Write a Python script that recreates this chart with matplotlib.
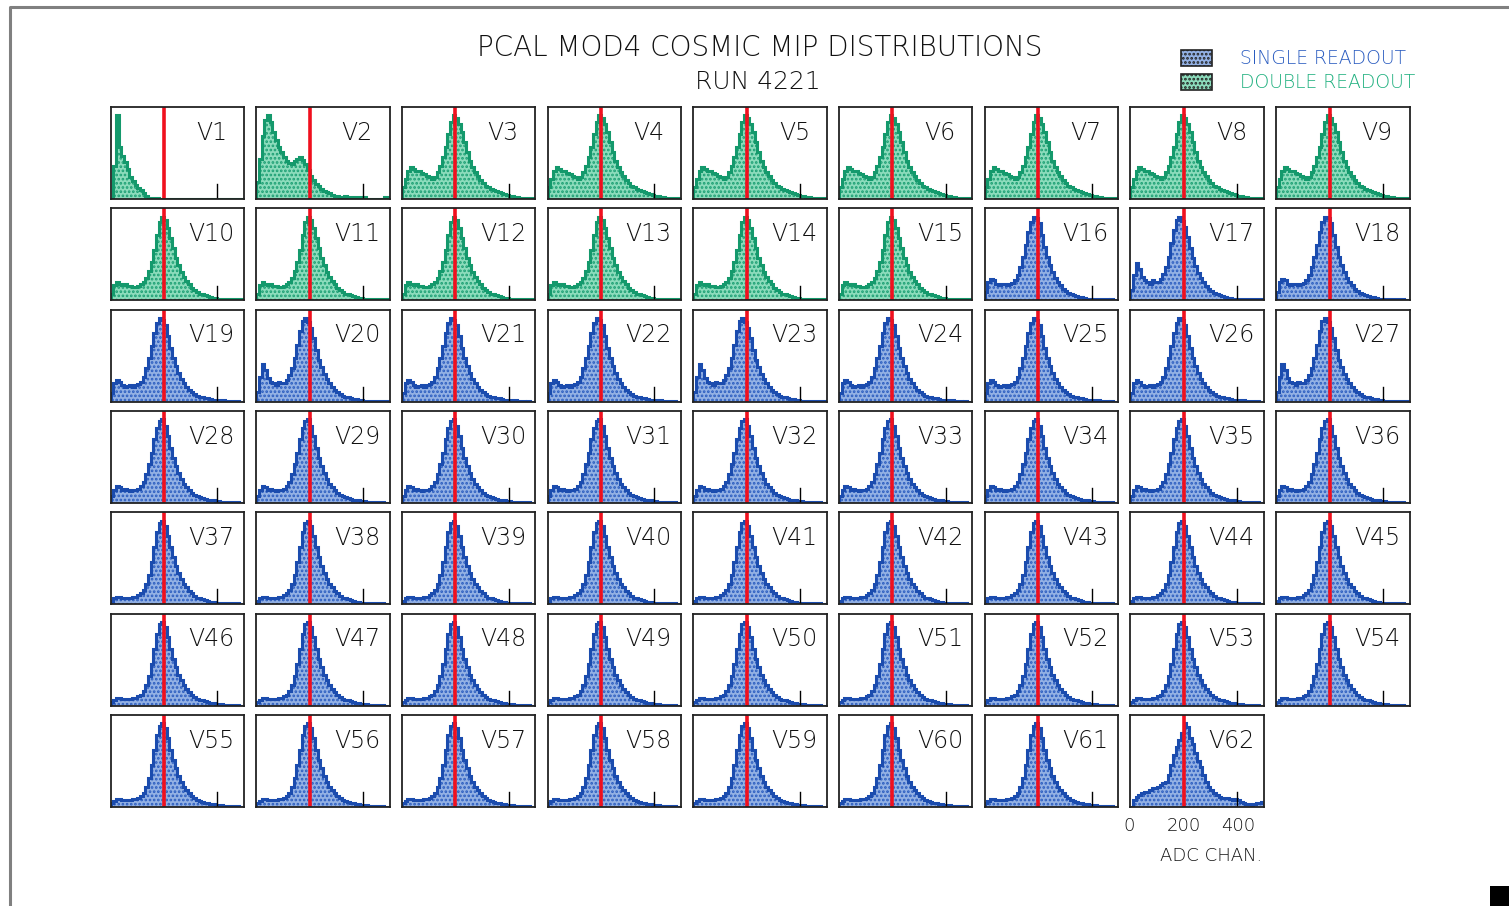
import matplotlib.pyplot as plt
import matplotlib.lines as mlines
import matplotlib.patches as mpatches
import numpy as np

# ADC bin edges (10 channels per bin, 0..500)
EDGES = list(range(0, 510, 10))

# histogram shapes (relative counts per bin)
SHAPE_V1 = [0, 40, 100, 62, 52, 44, 36, 26, 21, 17, 13, 11, 7, 3, 1, 1, 1, 1, 0, 0,
            0, 0, 0, 0, 0, 0, 0, 0, 0, 0, 0, 0, 0, 0, 0, 0, 0, 0, 0, 0,
            0, 0, 0, 0, 0, 0, 0, 0, 0, 0]
SHAPE_V2 = [20, 48, 75, 95, 100, 92, 80, 70, 62, 56, 50, 46, 43, 42, 45, 48, 50, 47, 42, 35,
            28, 23, 18, 15, 12, 10, 8, 7, 5, 4, 3, 2, 2, 3, 2, 2, 1, 2, 2, 1,
            2, 0, 0, 0, 0, 0, 0, 0, 2, 2]
SHAPE_GREEN_A = [14, 24, 34, 38, 36, 34, 33, 31, 30, 28, 26, 24, 26, 32, 40, 50, 62, 78, 92, 100,
                 97, 90, 80, 68, 56, 46, 38, 32, 27, 23, 19, 16, 14, 12, 11, 9, 8, 7, 6, 5,
                 4, 3, 2, 2, 1, 1, 1, 1, 1, 1]
SHAPE_GREEN_B = [8, 18, 22, 20, 18, 19, 17, 17, 16, 16, 17, 19, 22, 27, 35, 46, 60, 78, 94, 100,
                 96, 86, 74, 62, 51, 42, 34, 28, 23, 19, 15, 12, 10, 8, 7, 6, 5, 4, 3, 3,
                 2, 2, 1, 1, 1, 1, 1, 1, 1, 1]
SHAPE_BLUE_A = [10, 22, 26, 24, 20, 18, 19, 20, 18, 20, 21, 24, 30, 40, 52, 66, 82, 94, 100, 98,
                92, 78, 64, 52, 42, 34, 27, 22, 18, 14, 11, 9, 7, 6, 5, 4, 4, 3, 2, 2,
                2, 1, 2, 1, 1, 1, 0, 1, 0, 0]
SHAPE_BLUE_B = [12, 30, 45, 38, 28, 24, 22, 20, 24, 22, 22, 26, 32, 40, 52, 68, 84, 96, 100, 95,
                88, 76, 62, 50, 41, 33, 27, 22, 17, 14, 11, 9, 7, 6, 5, 4, 3, 3, 2, 2,
                1, 1, 1, 1, 1, 1, 1, 1, 1, 1]
SHAPE_BLUE_C = [8, 15, 20, 19, 16, 17, 15, 14, 16, 15, 17, 20, 25, 34, 46, 60, 76, 90, 98, 100,
                92, 80, 66, 54, 44, 36, 29, 23, 19, 15, 12, 10, 8, 7, 6, 5, 4, 3, 3, 2,
                2, 1, 1, 1, 1, 1, 1, 1, 0, 0]
SHAPE_BLUE_D = [4, 7, 9, 9, 8, 8, 8, 8, 9, 9, 11, 13, 17, 24, 35, 50, 68, 86, 97, 100,
                94, 82, 68, 56, 46, 37, 30, 24, 20, 16, 13, 10, 8, 7, 6, 5, 4, 3, 3, 2,
                2, 2, 1, 1, 1, 1, 1, 1, 0, 0]
SHAPE_V62 = [0, 8, 12, 14, 16, 18, 18, 20, 22, 22, 24, 26, 28, 30, 38, 50, 62, 72, 80, 88,
             100, 95, 82, 75, 64, 55, 48, 38, 30, 24, 20, 16, 14, 12, 11, 10, 10, 9, 8, 9,
             8, 6, 4, 3, 3, 2, 3, 4, 5, 6]

SHAPES = {
    "V1": SHAPE_V1, "V2": SHAPE_V2, "GA": SHAPE_GREEN_A, "GB": SHAPE_GREEN_B,
    "BA": SHAPE_BLUE_A, "BB": SHAPE_BLUE_B, "BC": SHAPE_BLUE_C, "BD": SHAPE_BLUE_D,
    "V62": SHAPE_V62,
}

# which shape each channel V1..V62 looks like
CHANNEL_SHAPE = (["V1", "V2"] + ["GA"] * 7 + ["GB"] * 6
                 + ["BA", "BB", "BA", "BA", "BB", "BA", "BA", "BB", "BA", "BA", "BA", "BB"]
                 + ["BC"] * 9 + ["BD"] * 25 + ["V62"])
# readout type: D = double (green), S = single (blue)
READOUT = ["D"] * 15 + ["S"] * 47
CHANNELS = ["V%d" % i for i in range(1, 63)]

MIP_LINE = 200   # red reference line, ADC channel
TICK_ADC = 400

W, H = 1509, 906
COLORS = {
    "S": dict(line="#1b4cae", face="#93b1e4", hatch="#2a5cbf", text="#2a5cc0"),
    "D": dict(line="#14996c", face="#8cdcbc", hatch="#1a9e72", text="#1fb07f"),
}

plt.rcParams["hatch.linewidth"] = 1.3
plt.rcParams["font.family"] = ["DejaVu Sans"]

fig = plt.figure(figsize=(W / 100, H / 100), dpi=100)


def fx(x):
    return x / W


def fy(y):
    return 1 - y / H


left0, dx = 110.5, 145.7
top0, dy = 107.0, 101.3
pw, ph = 133.5, 92.0

for i, name in enumerate(CHANNELS):
    row, col = divmod(i, 9)
    x0 = left0 + col * dx
    y0 = top0 + row * dy
    ax = fig.add_axes([fx(x0), fy(y0 + ph), pw / W, ph / H])
    vals = np.array(SHAPES[CHANNEL_SHAPE[i]], dtype=float)
    c = COLORS[READOUT[i]]
    ax.stairs(vals, EDGES, fill=True, facecolor=c["face"], edgecolor=c["hatch"],
              hatch="....", linewidth=0)
    ax.stairs(vals, EDGES, color=c["line"], linewidth=2.2)
    ax.axvline(MIP_LINE, color="#f0101e", linewidth=2.6)
    ax.axvline(TICK_ADC, ymax=0.16, color="black", linewidth=1.0)
    ax.set_xlim(0, 500)
    ax.set_ylim(0, vals.max() * 1.1)
    ax.set_xticks([])
    ax.set_yticks([])
    for s in ax.spines.values():
        s.set_linewidth(1.3)
        s.set_color("#222222")
    ax.text(0.757, 0.72, name, transform=ax.transAxes, ha="center", va="center",
            fontsize=17, color="#111111", fontweight="light")

# titles
fig.text(fx(760), fy(48), "PCAL MOD4 COSMIC MIP DISTRIBUTIONS", ha="center",
         va="center", fontsize=20, fontweight="light", color="#111111")
fig.text(fx(758), fy(82), "RUN 4221", ha="center", va="center", fontsize=18,
         fontweight="light", color="#111111")

# legend
for ytop, key, label in [(50, "S", "SINGLE READOUT"), (74, "D", "DOUBLE READOUT")]:
    c = COLORS[key]
    fig.add_artist(mpatches.Rectangle((fx(1181), fy(ytop + 16)), 31 / W, 16 / H,
                                      transform=fig.transFigure, facecolor=c["face"],
                                      edgecolor="#222222", hatch="....", linewidth=1.2))
    fig.text(fx(1240), fy(ytop + 8), label, ha="left", va="center", fontsize=13.5,
             color=c["text"], fontweight="light")

# x-axis scale under last panel
for lbl, xp in [("0", 1129), ("200", 1184), ("400", 1238)]:
    fig.text(fx(xp), fy(826), lbl, ha="center", va="center", fontsize=13,
             color="#111111", fontweight="light")
fig.text(fx(1211), fy(856), "ADC CHAN.", ha="center", va="center", fontsize=13,
         color="#111111", fontweight="light")

# page border and corner mark
fig.add_artist(mlines.Line2D([fx(10), fx(10), fx(W)], [fy(H), fy(7), fy(7)],
                             transform=fig.transFigure, color="#808080", linewidth=2.2))
fig.add_artist(mpatches.Rectangle((fx(1490), 0), 19 / W, 20 / H,
                                  transform=fig.transFigure, facecolor="black",
                                  edgecolor="none"))

fig.savefig("out.png", dpi=100)
